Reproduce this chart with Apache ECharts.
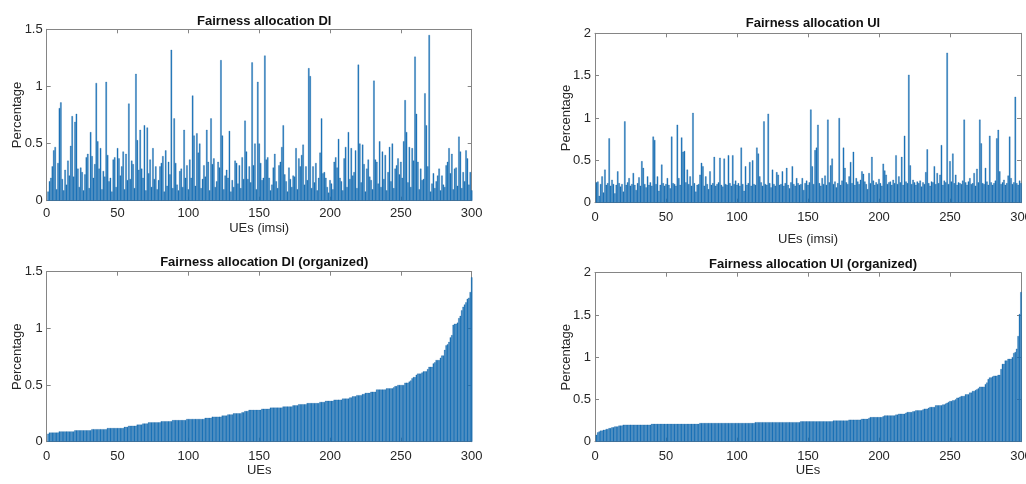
<!DOCTYPE html>
<html>
<head>
<meta charset="utf-8">
<title>Fairness allocation</title>
<script src="https://cdn.jsdelivr.net/npm/echarts@6/dist/echarts.min.js"></script>
<style>
    html, body { margin: 0; padding: 0; background: #fff; }
    #main { width: 1026px; height: 484px; }
</style>
</head>
<body>
<div id="main"></div>
<script>
// fairness share per UE, downlink, in imsi order (UE 1..300)
var dlValues = [
    0.08, 0.17, 0.20, 0.30, 0.44, 0.47, 0.10, 0.33, 0.81, 0.86,
    0.19, 0.09, 0.27, 0.14, 0.35, 0.22, 0.48, 0.74, 0.21, 0.69,
    0.76, 0.28, 0.12, 0.29, 0.25, 0.09, 0.23, 0.38, 0.41, 0.11,
    0.60, 0.39, 0.20, 0.32, 1.03, 0.52, 0.28, 0.46, 0.10, 0.26,
    0.21, 1.04, 0.40, 0.17, 0.20, 0.08, 0.36, 0.38, 0.12, 0.46,
    0.37, 0.22, 0.30, 0.43, 0.10, 0.41, 0.18, 0.85, 0.19, 0.35,
    0.32, 0.11, 1.11, 0.53, 0.27, 0.62, 0.28, 0.20, 0.66, 0.09,
    0.64, 0.24, 0.36, 0.12, 0.46, 0.19, 0.30, 0.10, 0.18, 0.30,
    0.33, 0.39, 0.08, 0.44, 0.13, 0.34, 0.23, 1.32, 0.11, 0.72,
    0.33, 0.14, 0.09, 0.26, 0.28, 0.12, 0.62, 0.20, 0.31, 0.10,
    0.36, 0.20, 0.92, 0.57, 0.13, 0.59, 0.42, 0.50, 0.11, 0.19,
    0.31, 0.21, 0.62, 0.34, 0.09, 0.72, 0.32, 0.37, 0.12, 0.17,
    0.34, 0.29, 1.23, 0.57, 0.10, 0.22, 0.27, 0.20, 0.61, 0.08,
    0.18, 0.12, 0.35, 0.33, 0.15, 0.31, 0.11, 0.38, 0.19, 0.70,
    0.43, 0.19, 0.30, 0.16, 1.21, 0.31, 0.50, 0.10, 1.04, 0.50,
    0.33, 0.18, 0.20, 1.27, 0.36, 0.38, 0.20, 0.09, 0.14, 0.29,
    0.41, 0.17, 0.11, 0.31, 0.34, 0.47, 0.66, 0.23, 0.17, 0.08,
    0.29, 0.19, 0.12, 0.22, 0.21, 0.46, 0.10, 0.37, 0.30, 0.40,
    0.49, 0.14, 0.30, 0.18, 1.16, 1.09, 0.11, 0.30, 0.16, 0.33,
    0.09, 0.20, 0.42, 0.72, 0.24, 0.25, 0.20, 0.12, 0.07, 0.18,
    0.15, 0.10, 0.34, 0.38, 0.29, 0.54, 0.20, 0.17, 0.09, 0.37,
    0.47, 0.12, 0.60, 0.19, 0.46, 0.22, 0.25, 0.44, 0.11, 1.19,
    0.50, 0.16, 0.49, 0.32, 0.08, 0.28, 0.36, 0.21, 0.18, 0.10,
    1.05, 0.36, 0.34, 0.15, 0.52, 0.12, 0.43, 0.19, 0.40, 0.09,
    0.25, 0.47, 0.17, 0.50, 0.11, 0.28, 0.31, 0.37, 0.23, 0.34,
    0.20, 0.52, 0.88, 0.60, 0.16, 0.47, 0.12, 0.46, 0.35, 1.26,
    0.76, 0.34, 0.10, 0.28, 0.18, 0.19, 0.94, 0.66, 0.30, 1.45,
    0.08, 0.15, 0.24, 0.11, 0.17, 0.22, 0.28, 0.09, 0.22, 0.14,
    0.12, 0.31, 0.34, 0.46, 0.24, 0.41, 0.10, 0.28, 0.29, 0.13,
    0.56, 0.43, 0.11, 0.25, 0.17, 0.44, 0.37, 0.14, 0.25, 0.09
];

// same for uplink
var ulValues = [
    0.24, 0.25, 0.08, 0.22, 0.31, 0.12, 0.39, 0.21, 0.23, 0.76,
    0.20, 0.27, 0.22, 0.11, 0.21, 0.37, 0.23, 0.19, 0.22, 0.13,
    0.96, 0.21, 0.24, 0.29, 0.20, 0.22, 0.35, 0.21, 0.15, 0.23,
    0.30, 0.20, 0.49, 0.41, 0.22, 0.18, 0.31, 0.21, 0.24, 0.20,
    0.78, 0.74, 0.22, 0.31, 0.14, 0.21, 0.45, 0.23, 0.20, 0.22,
    0.29, 0.21, 0.17, 0.78, 0.23, 0.22, 0.20, 0.92, 0.29, 0.21,
    0.77, 0.60, 0.61, 0.24, 0.39, 0.22, 0.31, 0.20, 1.06, 0.23,
    0.13, 0.21, 0.22, 0.33, 0.47, 0.43, 0.20, 0.31, 0.22, 0.16,
    0.37, 0.21, 0.23, 0.54, 0.20, 0.22, 0.24, 0.53, 0.21, 0.19,
    0.52, 0.22, 0.21, 0.56, 0.23, 0.20, 0.56, 0.22, 0.26, 0.21,
    0.23, 0.20, 0.65, 0.22, 0.14, 0.43, 0.21, 0.23, 0.48, 0.20,
    0.50, 0.22, 0.21, 0.65, 0.58, 0.31, 0.24, 0.20, 0.96, 0.22,
    0.21, 1.05, 0.23, 0.18, 0.39, 0.22, 0.20, 0.36, 0.33, 0.21,
    0.22, 0.37, 0.20, 0.23, 0.41, 0.21, 0.17, 0.24, 0.43, 0.22,
    0.20, 0.29, 0.23, 0.21, 0.22, 0.29, 0.15, 0.23, 0.26, 0.21,
    0.24, 1.10, 0.43, 0.22, 0.62, 0.65, 0.92, 0.23, 0.20, 0.29,
    0.22, 0.32, 0.21, 0.98, 0.24, 0.44, 0.52, 0.22, 0.25, 0.18,
    0.23, 1.00, 0.21, 0.26, 0.65, 0.41, 0.24, 0.22, 0.31, 0.48,
    0.23, 0.60, 0.21, 0.29, 0.25, 0.22, 0.27, 0.37, 0.34, 0.25,
    0.22, 0.16, 0.35, 0.23, 0.54, 0.26, 0.21, 0.24, 0.22, 0.28,
    0.23, 0.20, 0.46, 0.38, 0.33, 0.22, 0.24, 0.25, 0.21, 0.27,
    0.23, 0.56, 0.22, 0.31, 0.24, 0.54, 0.21, 0.79, 0.25, 0.23,
    1.51, 0.44, 0.22, 0.27, 0.24, 0.21, 0.25, 0.23, 0.26, 0.19,
    0.24, 0.22, 0.36, 0.63, 0.23, 0.20, 0.25, 0.24, 0.43, 0.22,
    0.35, 0.23, 0.33, 0.68, 0.21, 0.26, 0.24, 1.77, 0.22, 0.49,
    0.25, 0.58, 0.23, 0.33, 0.21, 0.24, 0.23, 0.22, 0.26, 0.98,
    0.24, 0.21, 0.25, 0.29, 0.22, 0.23, 0.35, 0.20, 0.40, 0.24,
    0.98, 0.70, 0.23, 0.22, 0.41, 0.25, 0.21, 0.79, 0.24, 0.21,
    0.23, 0.26, 0.76, 0.86, 0.37, 0.22, 0.24, 0.27, 0.21, 0.23,
    0.32, 0.78, 0.29, 0.22, 0.24, 1.25, 0.23, 0.21, 0.26, 0.23
];

var xTicks = [0, 50, 100, 150, 200, 250, 300];
var dlTicks = [0, 0.5, 1, 1.5];
var ulTicks = [0, 0.5, 1, 1.5, 2];

var titles = ['Fairness allocation Dl', 'Fairness allocation Ul',
    'Fairness allocation Dl (organized)', 'Fairness allocation Ul (organized)'];
var xNames = ['UEs (imsi)', 'UEs (imsi)', 'UEs', 'UEs'];
var yName = 'Percentage';

// organized = same values sorted ascending
var dlSorted = dlValues.slice().sort(function (a, b) { return a - b; });
var ulSorted = ulValues.slice().sort(function (a, b) { return a - b; });

var font = 'Liberation Sans, Arial, Helvetica, sans-serif';
var boxColor = '#858585';
var barColor = '#1f79c1';

// layout of the 4 panels (px)
var panels = [
    { grid: { left: 46.7, top: 29.3, width: 425, height: 171.4 }, data: dlValues, ticks: dlTicks, titleTop: 10, xGap: 21, yGap: 23, labMargin: 6 },
    { grid: { left: 595, top: 33.3, width: 426, height: 169.4 }, data: ulValues, ticks: ulTicks, titleTop: 12, xGap: 30, yGap: 22, labMargin: 8 },
    { grid: { left: 46.7, top: 271.7, width: 425, height: 170 }, data: dlSorted, ticks: dlTicks, titleTop: 251, xGap: 22, yGap: 23, labMargin: 8 },
    { grid: { left: 595, top: 272.7, width: 426, height: 169 }, data: ulSorted, ticks: ulTicks, titleTop: 253, xGap: 22, yGap: 22, labMargin: 8 }
];

var option = {
    backgroundColor: '#fff',
    animation: false,
    textStyle: { fontFamily: font },
    title: [], grid: [], xAxis: [], yAxis: [], series: []
};

function boxLine() {
    return { show: true, onZero: false, lineStyle: { color: boxColor, width: 1 } };
}
function boxTick() {
    return { show: true, inside: true, length: 4, lineStyle: { color: boxColor, width: 1 } };
}

panels.forEach(function (p, i) {
    var g = p.grid;
    option.grid.push({
        left: g.left, top: g.top, width: g.width, height: g.height,
        containLabel: false, outerBoundsMode: 'none'
    });
    option.title.push({
        text: titles[i],
        left: g.left + g.width / 2,
        top: p.titleTop,
        textAlign: 'center',
        textStyle: { fontSize: 13, fontWeight: 'bold', color: '#111', fontFamily: font }
    });

    var xMin = xTicks[0], xMax = xTicks[xTicks.length - 1], xStep = xTicks[1] - xTicks[0];
    var yMin = p.ticks[0], yMax = p.ticks[p.ticks.length - 1], yStep = p.ticks[1] - p.ticks[0];

    // bottom x axis + top mirror (MATLAB box)
    option.xAxis.push({
        type: 'value', gridIndex: i, position: 'bottom',
        min: xMin, max: xMax, interval: xStep,
        name: xNames[i], nameLocation: 'middle', nameGap: p.xGap, nameMoveOverlap: false,
        nameTextStyle: { fontSize: 13, color: '#262626', fontFamily: font },
        axisLine: boxLine(), axisTick: boxTick(),
        axisLabel: { fontSize: 13, color: '#262626', margin: p.labMargin, fontFamily: font },
        splitLine: { show: false }
    });
    option.xAxis.push({
        type: 'value', gridIndex: i, position: 'top',
        min: xMin, max: xMax, interval: xStep,
        axisLine: boxLine(), axisTick: boxTick(),
        axisLabel: { show: false },
        splitLine: { show: false }
    });

    // left y axis + right mirror
    option.yAxis.push({
        type: 'value', gridIndex: i, position: 'left',
        min: yMin, max: yMax, interval: yStep,
        name: yName, nameLocation: 'middle', nameGap: p.yGap, nameRotate: 90, nameMoveOverlap: false,
        nameTextStyle: { fontSize: 13, color: '#262626', fontFamily: font },
        axisLine: boxLine(), axisTick: boxTick(),
        axisLabel: { fontSize: 13, color: '#262626', margin: 4, fontFamily: font },
        splitLine: { show: false }
    });
    option.yAxis.push({
        type: 'value', gridIndex: i, position: 'right',
        min: yMin, max: yMax, interval: yStep,
        axisLine: boxLine(), axisTick: boxTick(),
        axisLabel: { show: false },
        splitLine: { show: false }
    });

    option.series.push({
        type: 'bar',
        xAxisIndex: 2 * i,
        yAxisIndex: 2 * i,
        barWidth: '100%',
        itemStyle: { color: barColor, borderColor: '#15609e', borderWidth: 0.3 },
        data: p.data.map(function (v, k) { return [k + 1, v]; })
    });
});

var chart = echarts.init(document.getElementById('main'), null, { renderer: 'canvas' });
chart.setOption(option);
</script>
</body>
</html>
